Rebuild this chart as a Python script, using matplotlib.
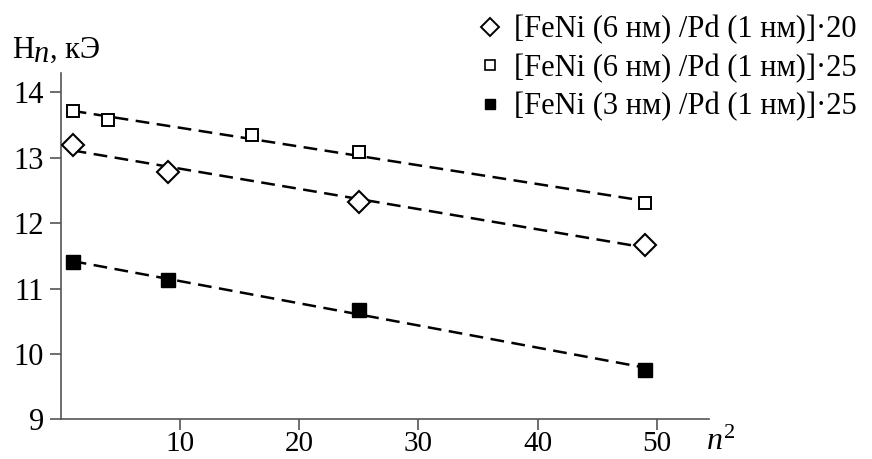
import numpy as np
import matplotlib
matplotlib.use("Agg")
import matplotlib.pyplot as plt
from matplotlib.lines import Line2D

plt.rcParams['font.family'] = ['Liberation Serif', 'DejaVu Serif']
plt.rcParams['mathtext.fontset'] = 'custom'
plt.rcParams['mathtext.rm'] = 'Liberation Serif'
plt.rcParams['mathtext.it'] = 'Liberation Serif:italic'

# data
x_sq = [1, 4, 16, 25, 49]
y_sq = [13.71, 13.57, 13.34, 13.08, 12.30]   # [FeNi (6 нм) /Pd (1 нм)]·25
x_di = [1, 9, 25, 49]
y_di = [13.20, 12.78, 12.33, 11.66]          # [FeNi (6 нм) /Pd (1 нм)]·20
x_fi = [1, 9, 25, 49]
y_fi = [11.40, 11.13, 10.67, 9.76]           # [FeNi (3 нм) /Pd (1 нм)]·25

labels = ['[FeNi (6 нм) /Pd (1 нм)]·20',
          '[FeNi (6 нм) /Pd (1 нм)]·25',
          '[FeNi (3 нм) /Pd (1 нм)]·25']
xticks = [10, 20, 30, 40, 50]
yticks = [9, 10, 11, 12, 13, 14]

fs = 22
axc = '#555555'

fig = plt.figure(figsize=(8.72, 4.59), dpi=100)
ax = fig.add_axes([0.0697, 0.0865, 0.7437, 0.7551])

def fitline(x, y):
    k, b = np.polyfit(x, y, 1)
    xx = np.array([min(x), max(x)])
    ax.plot(xx, k * xx + b, color='black', lw=1.8, ls=(0, (5.5, 3)), zorder=2)

fitline(x_sq, y_sq)
fitline(x_di, y_di)
fitline(x_fi, y_fi)

ax.plot(x_di, y_di, ls='none', marker='D', ms=11, mfc='white', mec='black', mew=1.5, zorder=3)
ax.plot(x_sq, y_sq, ls='none', marker='s', ms=8.5, mfc='white', mec='black', mew=1.4, zorder=3)
ax.plot(x_fi, y_fi, ls='none', marker='s', ms=9.5, mfc='black', mec='black', mew=1.0, zorder=3)

ax.set_xlim(0, 54.4)
ax.set_ylim(9, 14.3)
ax.set_xticks(xticks)
ax.set_yticks(yticks)
ax.tick_params(labelsize=fs, length=8, width=1.2, color=axc, direction='out')
ax.tick_params(axis='y', pad=4)
ax.tick_params(axis='x', pad=0.5, labelsize=fs - 1)
for s in ['top', 'right']:
    ax.spines[s].set_visible(False)
for s in ['left', 'bottom']:
    ax.spines[s].set_color(axc)
    ax.spines[s].set_linewidth(1.2)

# axis labels
fig.text(12 / 872, 1 - 58 / 459, 'H', fontsize=fs, ha='left', va='baseline')
fig.text(34 / 872, 1 - 62 / 459, 'n', fontsize=fs, style='italic', ha='left', va='baseline')
fig.text(50 / 872, 1 - 58 / 459, ', кЭ', fontsize=fs, ha='left', va='baseline')
fig.text(706 / 872, 1 - 450 / 459, r'$n^2$', fontsize=fs + 1, ha='left', va='baseline')

handles = [
    Line2D([], [], ls='none', marker='D', ms=9, mfc='white', mec='black', mew=1.4),
    Line2D([], [], ls='none', marker='s', ms=7.5, mfc='white', mec='black', mew=1.2),
    Line2D([], [], ls='none', marker='s', ms=7.5, mfc='black', mec='black'),
]
fig.legend(handles, labels, loc='upper right', bbox_to_anchor=(1.0, 1.0),
           frameon=False, fontsize=fs, handlelength=0.8, handletextpad=0.4,
           labelspacing=0.3, borderaxespad=0.1)

fig.savefig('out.png', dpi=100)
